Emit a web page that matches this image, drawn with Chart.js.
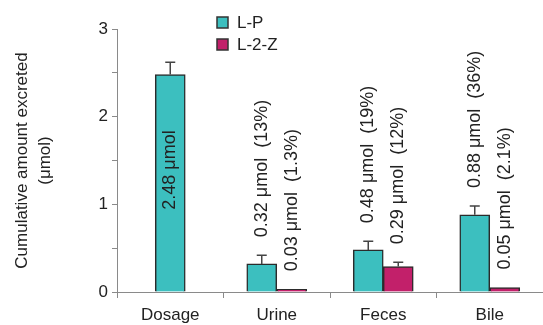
<!DOCTYPE html>
<html>
<head>
<meta charset="utf-8">
<script src="https://cdn.jsdelivr.net/npm/chart.js@4/dist/chart.umd.min.js"></script>
<style>
  html, body { margin: 0; padding: 0; background: #ffffff; }
  #wrap { width: 543px; height: 325px; }
</style>
</head>
<body>
<div id="wrap"><canvas id="chart" width="543" height="325"></canvas></div>
<script>
// Excretion categories
const categories = ['Dosage', 'Urine', 'Feces', 'Bile'];

// L-P series: cumulative amount (μmol), error, and printed labels
const lpValues = [2.48, 0.32, 0.48, 0.88];
const lpErrors = [0.14, 0.10, 0.10, 0.10];
const lpLabels = ['2.48 μmol', '0.32 μmol  (13%)', '0.48 μmol  (19%)', '0.88 μmol  (36%)'];

// L-2-Z series (no dosage bar)
const l2zValues = [null, 0.03, 0.29, 0.05];
const l2zErrors = [null, 0, 0.05, 0];
const l2zLabels = [null, '0.03 μmol  (1.3%)', '0.29 μmol  (12%)', '0.05 μmol  (2.1%)'];

// Y axis ticks
const yTickValues = [0, 0.5, 1, 1.5, 2, 2.5, 3];
const yTickLabels = ['0', '', '1', '', '2', '', '3'];

const TEXT = '#222222';
const AXIS = '#8a8a8a';
const FONT = "'Liberation Sans', Arial, sans-serif";

// Error bars and rotated value labels
const annotate = {
  id: 'annotate',
  afterDatasetsDraw(chart) {
    const ctx = chart.ctx;
    const y = chart.scales.y;
    chart.data.datasets.forEach((ds, di) => {
      const meta = chart.getDatasetMeta(di);
      meta.data.forEach((bar, i) => {
        const v = ds.data[i];
        if (v === null || v === undefined) return;
        const err = ds.errors[i] || 0;
        const topPx = y.getPixelForValue(v + err);
        if (err > 0) {
          ctx.save();
          ctx.strokeStyle = '#444444';
          ctx.lineWidth = 1.5;
          ctx.beginPath();
          ctx.moveTo(bar.x, bar.y);
          ctx.lineTo(bar.x, topPx);
          ctx.moveTo(bar.x - 5, topPx);
          ctx.lineTo(bar.x + 5, topPx);
          ctx.stroke();
          ctx.restore();
        }
        const text = ds.valueLabels[i];
        if (!text) return;
        ctx.save();
        ctx.fillStyle = TEXT;
        ctx.font = '18px ' + FONT;
        ctx.textBaseline = 'middle';
        if (ds.insideLabel[i]) {
          ctx.translate(bar.x, (bar.y + bar.base) / 2 - 13);
          ctx.rotate(-Math.PI / 2);
          ctx.textAlign = 'center';
        } else {
          ctx.translate(bar.x, topPx - 18);
          ctx.rotate(-Math.PI / 2);
          ctx.textAlign = 'left';
        }
        ctx.fillText(text, 0, 0);
        ctx.restore();
      });
    });
  }
};

// Stacked legend with outlined swatches
const boxLegend = {
  id: 'boxLegend',
  afterDraw(chart) {
    const ctx = chart.ctx;
    chart.data.datasets.forEach((ds, i) => {
      const top = 17 + 22 * i;
      ctx.save();
      ctx.fillStyle = ds.backgroundColor;
      ctx.fillRect(217, top, 11, 11);
      ctx.strokeStyle = '#333333';
      ctx.lineWidth = 1.5;
      ctx.strokeRect(217, top, 11, 11);
      ctx.fillStyle = TEXT;
      ctx.font = '17px ' + FONT;
      ctx.textAlign = 'left';
      ctx.textBaseline = 'middle';
      ctx.fillText(ds.label, 237, top + 6);
      ctx.restore();
    });
  }
};

new Chart(document.getElementById('chart'), {
  type: 'bar',
  data: {
    labels: categories,
    datasets: [
      {
        label: 'L-P',
        data: lpValues,
        errors: lpErrors,
        valueLabels: lpLabels,
        insideLabel: [true, false, false, false],
        backgroundColor: '#3cbfbf',
        borderColor: '#2b2b2b',
        borderWidth: 1.5,
        barThickness: 30,
        skipNull: true
      },
      {
        label: 'L-2-Z',
        data: l2zValues,
        errors: l2zErrors,
        valueLabels: l2zLabels,
        insideLabel: [false, false, false, false],
        backgroundColor: '#c2206a',
        borderColor: '#2b2b2b',
        borderWidth: 1.5,
        barThickness: 30,
        skipNull: true
      }
    ]
  },
  options: {
    responsive: false,
    animation: false,
    devicePixelRatio: 1,
    layout: { padding: { top: 29, left: 0, right: 0, bottom: 0 } },
    plugins: {
      legend: { display: false },
      tooltip: { enabled: false }
    },
    scales: {
      x: {
        grid: {
          offset: true,
          drawOnChartArea: false,
          drawTicks: true,
          tickLength: 6,
          tickColor: AXIS,
          tickWidth: 1
        },
        border: { color: AXIS, width: 1 },
        ticks: { color: TEXT, font: { family: FONT, size: 17 }, padding: 7, maxRotation: 0 },
        afterFit(scale) { scale.height = 33; }
      },
      y: {
        min: 0,
        max: 3,
        afterBuildTicks(scale) {
          scale.ticks = yTickValues.map(v => ({ value: v }));
        },
        grid: {
          drawOnChartArea: false,
          drawTicks: true,
          tickLength: 5,
          tickColor: AXIS,
          tickWidth: 1
        },
        border: { color: AXIS, width: 1 },
        ticks: {
          color: TEXT,
          font: { family: FONT, size: 17 },
          padding: 4,
          callback: (value, index) => yTickLabels[index]
        },
        title: {
          display: true,
          text: ['Cumulative amount excreted', '(μmol)'],
          color: TEXT,
          font: { family: FONT, size: 17, lineHeight: 1.4 },
          padding: { top: 10, bottom: 0 }
        },
        afterFit(scale) { scale.width = 117; }
      }
    }
  },
  plugins: [annotate, boxLegend]
});
</script>
</body>
</html>
